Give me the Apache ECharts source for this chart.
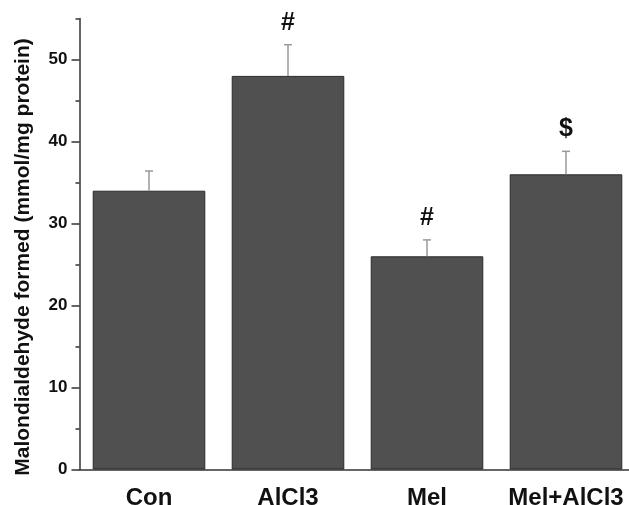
<!DOCTYPE html>
<html><head><meta charset="utf-8">
<script src="https://cdn.jsdelivr.net/npm/echarts@6/dist/echarts.min.js"></script>
<style>html,body{margin:0;padding:0;background:#fff}#c{width:629px;height:505px}</style>
</head><body><div id="c"></div>
<script>
const categories = ['Con', 'AlCl3', 'Mel', 'Mel+AlCl3'];
const means = [34, 48, 26, 36];
const errors = [2.4, 3.8, 2.0, 2.8];
const marks = ['', '#', '#', '$'];
const yMajorTicks = [0, 10, 20, 30, 40, 50];
const yMinorTicks = [5, 15, 25, 35, 45, 55];
const yTitle = 'Malondialdehyde formed (mmol/mg protein)';

const font = '"Liberation Sans", Arial, sans-serif';
const axisColor = '#333';
const chart = echarts.init(document.getElementById('c'), null, {renderer: 'canvas'});
chart.setOption({
  animation: false,
  backgroundColor: '#fff',
  grid: {left: 79.5, top: 18.5, width: 556, height: 451, containLabel: false, outerBoundsMode: 'none'},
  xAxis: [{
    type: 'category', data: categories, position: 'bottom',
    axisLine: {lineStyle: {color: axisColor, width: 1.5}},
    axisTick: {alignWithLabel: true, length: 8, lineStyle: {color: axisColor, width: 1.5}},
    axisLabel: {interval: 0, hideOverlap: false, fontFamily: font, fontWeight: 'bold', fontSize: 24, color: '#111', margin: 17}
  }, {
    type: 'category', data: categories, position: 'bottom',
    axisLine: {show: false},
    axisTick: {interval: 0, length: 4, lineStyle: {color: axisColor, width: 1.5}},
    axisLabel: {show: false}
  }],
  yAxis: [{
    type: 'value', min: 0, max: 55, interval: 10, position: 'left',
    name: yTitle, nameLocation: 'middle', nameRotate: 90, nameGap: 46,
    nameTextStyle: {fontFamily: font, fontWeight: 'bold', fontSize: 21, color: '#111', padding: [0, 26, 0, 0]},
    axisLine: {show: true, lineStyle: {color: axisColor, width: 1.5}},
    axisTick: {show: true, length: 8, customValues: yMajorTicks, lineStyle: {color: axisColor, width: 1.5}},
    axisLabel: {customValues: yMajorTicks, fontFamily: font, fontWeight: 'bold', fontSize: 17, color: '#111', margin: 12},
    splitLine: {show: false}
  }, {
    type: 'value', min: 0, max: 55, interval: 5, position: 'left',
    axisLine: {show: false},
    axisTick: {show: true, length: 4, customValues: yMinorTicks, lineStyle: {color: axisColor, width: 1.5}},
    axisLabel: {show: false},
    splitLine: {show: false}
  }],
  series: [{
    type: 'bar', data: means, xAxisIndex: 0, yAxisIndex: 0,
    barCategoryGap: '19%',
    itemStyle: {color: '#505050', borderColor: '#2a2a2a', borderWidth: 1}
  }, {
    type: 'custom', xAxisIndex: 0, yAxisIndex: 0, z: 5,
    data: means.map((m, i) => [i, m, errors[i]]),
    encode: {x: 0, y: 1},
    renderItem: function (params, api) {
      const i = api.value(0), m = api.value(1), e = api.value(2);
      const base = api.coord([i, m]);
      const top = api.coord([i, m + e]);
      const w = 4;
      const children = [
        {type: 'line', shape: {x1: base[0], y1: base[1], x2: top[0], y2: top[1]}, style: {stroke: '#999', lineWidth: 1.5}},
        {type: 'line', shape: {x1: top[0] - w, y1: top[1], x2: top[0] + w, y2: top[1]}, style: {stroke: '#999', lineWidth: 1.5}}
      ];
      const mk = marks[params.dataIndex];
      if (mk) {
        children.push({type: 'text', x: top[0], y: top[1] - 22,
          style: {text: mk, fill: '#111', font: 'bold 25px "Liberation Sans", Arial, sans-serif', align: 'center', verticalAlign: 'middle'}});
      }
      return {type: 'group', children: children};
    }
  }]
});
</script>
</body></html>
